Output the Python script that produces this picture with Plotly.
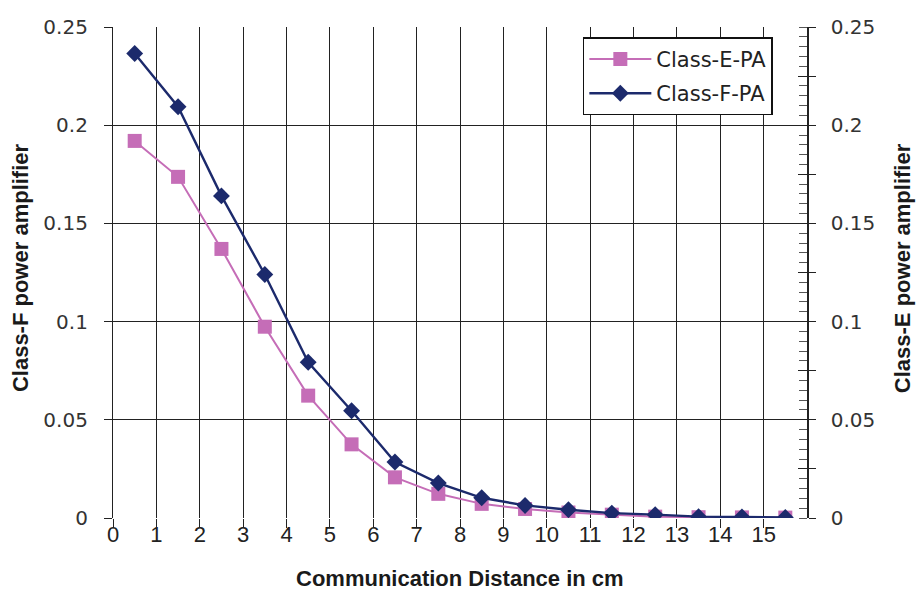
import plotly.graph_objects as go

distance = [0.5, 1.5, 2.5, 3.5, 4.5, 5.5, 6.5, 7.5, 8.5, 9.5, 10.5, 11.5, 12.5, 13.5, 14.5, 15.5]
class_e = [0.192, 0.1737, 0.137, 0.0974, 0.0623, 0.0375, 0.0207, 0.0123, 0.0072, 0.0046,
           0.0028, 0.0017, 0.0007, 0.0004, 0.0003, 0.0002]
class_f = [0.2365, 0.2094, 0.164, 0.124, 0.0793, 0.0546, 0.0285, 0.0178, 0.0103, 0.0064,
           0.0042, 0.0025, 0.0017, 0.0007, 0.0005, 0.0003]

x_ticks = list(range(0, 16))
y_ticks = [0, 0.05, 0.1, 0.15, 0.2, 0.25]
y_ticktext = ["0", "0.05", "0.1", "0.15", "0.2", "0.25"]
y2_ticks = [0, 0.025, 0.05, 0.075, 0.1, 0.125, 0.15, 0.175, 0.2, 0.225, 0.25]
y2_ticktext = ["0", "", "0.05", "", "0.1", "", "0.15", "", "0.2", "", "0.25"]

PINK = "#C56DB7"
NAVY = "#1C2A6C"
GRID = "#222222"

fig = go.Figure()
fig.add_trace(go.Scatter(
    x=distance, y=class_e, name="Class-E-PA", mode="lines+markers", legendgroup="e",
    line=dict(color=PINK, width=2),
    marker=dict(symbol="square", size=14, color=PINK),
))
fig.add_trace(go.Scatter(
    x=distance, y=class_f, name="Class-F-PA", mode="lines+markers", legendgroup="f",
    line=dict(color=NAVY, width=2.4),
    marker=dict(symbol="diamond", size=13, color=NAVY),
))
# reference traces so the extra tick-only axes are drawn
fig.add_trace(go.Scatter(x=[], y=[], yaxis="y2", showlegend=False, hoverinfo="skip"))
fig.add_trace(go.Scatter(x=[], y=[], yaxis="y3", showlegend=False, hoverinfo="skip"))
fig.add_trace(go.Scatter(x=[], y=[], xaxis="x2", showlegend=False, hoverinfo="skip"))

fig.update_layout(
    width=919, height=595,
    margin=dict(l=113, r=112, t=27, b=77),
    paper_bgcolor="white", plot_bgcolor="white",
    showlegend=True,
    legend=dict(
        x=0.677, y=0.979, xanchor="left", yanchor="top",
        bgcolor="white", bordercolor="#111", borderwidth=1.5,
        font=dict(family="DejaVu Sans", size=21, color="#222"),
        traceorder="grouped", tracegroupgap=4, itemwidth=62,
    ),
    xaxis=dict(
        range=[0, 16], tickmode="array", tickvals=x_ticks,
        showgrid=True, gridcolor=GRID, gridwidth=1.2,
        zeroline=False, showline=False,
        ticks="",
        tickfont=dict(family="Liberation Sans, Arial", size=22, color="#222"),
        ticklabelstandoff=1,
    ),
    xaxis2=dict(
        range=[0, 16], overlaying="x", side="bottom", anchor="y",
        tickmode="array", tickvals=x_ticks, showticklabels=False,
        showgrid=False, zeroline=False, showline=False,
        ticks="outside", ticklen=9, tickcolor=GRID, tickwidth=1.2,
    ),
    yaxis=dict(
        range=[0, 0.25], tickmode="array", tickvals=y_ticks, ticktext=y_ticktext,
        showgrid=True, gridcolor=GRID, gridwidth=1.2,
        zeroline=False, showline=True, linecolor=GRID, linewidth=1.2,
        ticks="outside", ticklen=8, tickcolor=GRID, tickwidth=1.2,
        tickfont=dict(family="DejaVu Sans", size=20, color="#333"),
        ticklabelstandoff=12,
    ),
    yaxis2=dict(
        range=[0, 0.25], overlaying="y", side="right", anchor="x",
        tickmode="array", tickvals=y2_ticks, ticktext=y2_ticktext,
        showgrid=False, zeroline=False,
        showline=True, linecolor=GRID, linewidth=1.5,
        ticks="outside", ticklen=7, tickcolor=GRID, tickwidth=1.2,
        tickfont=dict(family="DejaVu Sans", size=20, color="#333"),
        ticklabelstandoff=11,
        minor=dict(ticks="inside", dtick=0.005, ticklen=8, tickcolor="#555", tickwidth=1, showgrid=False),
    ),
    yaxis3=dict(
        range=[0, 0.25], overlaying="y", side="right", anchor="x",
        tickmode="array", tickvals=y2_ticks, showticklabels=False,
        showgrid=False, zeroline=False, showline=False,
        ticks="inside", ticklen=9, tickcolor=GRID, tickwidth=1.2,
    ),
    annotations=[
        dict(text="<b>Communication Distance in cm</b>", xref="paper", yref="paper",
             x=0.5, y=-0.124, xanchor="center", yanchor="middle", showarrow=False,
             font=dict(family="Liberation Sans, Arial", size=22, color="#1a1a1a")),
        dict(text="<b>Class-F power amplifier</b>", xref="paper", yref="paper",
             x=-0.134, y=0.509, xanchor="center", yanchor="middle", textangle=-90, showarrow=False,
             font=dict(family="Liberation Sans, Arial", size=22, color="#1a1a1a")),
        dict(text="<b>Class-E power amplifier</b>", xref="paper", yref="paper",
             x=1.137, y=0.509, xanchor="center", yanchor="middle", textangle=-90, showarrow=False,
             font=dict(family="Liberation Sans, Arial", size=22, color="#1a1a1a")),
    ],
)

fig.write_html(
    "out.html",
    config={"displayModeBar": False},
    post_script="document.body.style.margin='0px'; document.body.style.overflow='hidden';",
)
